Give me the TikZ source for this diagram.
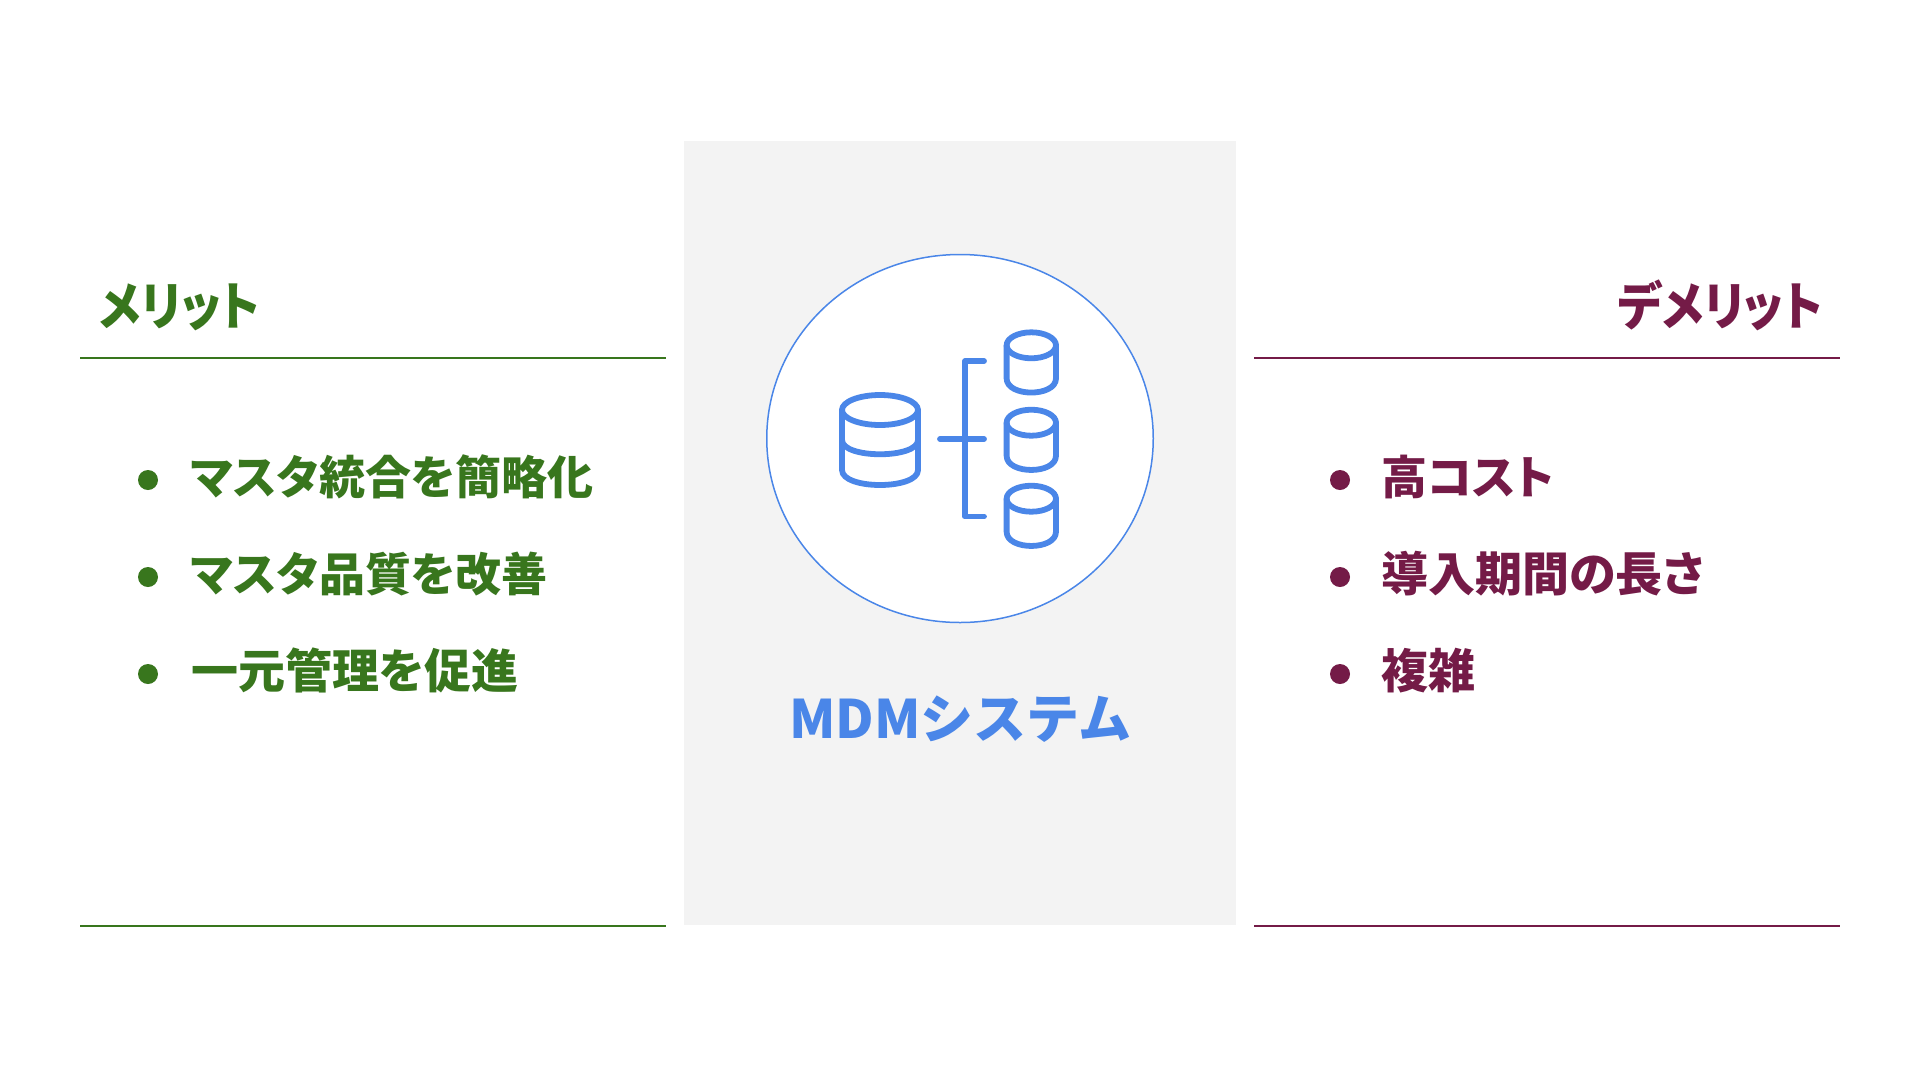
\documentclass[tikz,border=0pt]{standalone}
\usetikzlibrary{shapes.geometric}
\usepackage{fontspec}
\setmainfont{Noto Sans CJK JP}
\newfontfamily\headfont[RawFeature=+palt, FakeStretch=0.9]{Noto Sans CJK JP}
\newfontfamily\itemfont[RawFeature=+palt]{Noto Sans CJK JP}
\definecolor{meritgreen}{HTML}{38761D}
\definecolor{demeritred}{HTML}{741B47}
\definecolor{mdmblue}{HTML}{4A86E8}
\definecolor{panelgray}{HTML}{F3F3F3}
\begin{document}
\begin{tikzpicture}[x=1pt, y=-1pt,
        bullet_dot/.style={circle, fill=#1, inner sep=0pt, minimum size=20pt},
        item_text/.style={anchor=base west, inner sep=0pt, font=\fontsize{47}{54}\itemfont\bfseries, text=#1},
        item_kana/.style={anchor=base west, inner sep=0pt, font=\fontsize{46}{54}\itemfont\bfseries, text=#1},
        head_text/.style={inner sep=0pt, font=\fontsize{52}{60}\headfont\bfseries, text=#1},
        rule_line/.style={line width=1.6pt, draw=#1},
        icon_line/.style={line width=5.8pt, draw=mdmblue, line cap=round, line join=round}
    ]
    \useasboundingbox (0,0) rectangle (1920,1080);
    \fill[white] (0,0) rectangle (1920,1080);

    % --- Pannello centrale ---
    \fill[panelgray] (683.5,141) rectangle (1236,925);
    \node[draw=mdmblue, line width=1.5pt, fill=white, ellipse, inner sep=0pt, minimum width=386.5pt, minimum height=368pt] (disc) at (960,438.5) {};
    \node[anchor=base, inner sep=0pt, font=\fontsize{53}{60}\bfseries, text=mdmblue] (mdm) at (960,738) {MDMシステム};

    % --- Cilindro grande ---
    \draw[icon_line] (880,410) ellipse [x radius=38, y radius=15];
    \draw[icon_line] (842,410) -- (842,470) .. controls (842,490) and (918,490) .. (918,470) -- (918,410);
    \draw[icon_line] (842,440) .. controls (842,459) and (918,459) .. (918,440);

    % --- Staffa ---
    \draw[icon_line] (984,361) -- (965,361) -- (965,516.5) -- (984,516.5);
    \draw[icon_line] (940,439) -- (984,439);

    % --- Cilindri piccoli ---
    \begin{scope}[shift={(1031.3,345.3)}]
        \draw[icon_line] (0,0) ellipse [x radius=24.7, y radius=13];
        \draw[icon_line] (-24.7,0) -- (-24.7,33) .. controls (-24.7,52) and (24.7,52) .. (24.7,33) -- (24.7,0);
    \end{scope}
    \begin{scope}[shift={(1031.3,422.7)}]
        \draw[icon_line] (0,0) ellipse [x radius=24.7, y radius=13];
        \draw[icon_line] (-24.7,0) -- (-24.7,33) .. controls (-24.7,52) and (24.7,52) .. (24.7,33) -- (24.7,0);
    \end{scope}
    \begin{scope}[shift={(1031.3,498.7)}]
        \draw[icon_line] (0,0) ellipse [x radius=24.7, y radius=13];
        \draw[icon_line] (-24.7,0) -- (-24.7,33) .. controls (-24.7,52) and (24.7,52) .. (24.7,33) -- (24.7,0);
    \end{scope}

    % --- Colonna sinistra ---
    \node[head_text=meritgreen, anchor=base west] (merit) at (99,325) {メリット};
    \draw[rule_line=meritgreen] (80,358) -- (666,358);
    \draw[rule_line=meritgreen] (80,926) -- (666,926);

    \node[bullet_dot=meritgreen] (dotA) at (148,480) {};
    \node[bullet_dot=meritgreen] (dotB) at (148,577) {};
    \node[bullet_dot=meritgreen] (dotC) at (148,674) {};
    \node[item_kana=meritgreen] (itemA) at (191,494) {マスタ統合を簡略化};
    \node[item_kana=meritgreen] (itemB) at (191,591) {マスタ品質を改善};
    \node[item_text=meritgreen] (itemC) at (191,688) {一元管理を促進};

    % --- Colonna destra ---
    \node[head_text=demeritred, anchor=base east] (demerit) at (1823,325) {デメリット};
    \draw[rule_line=demeritred] (1254,358) -- (1840,358);
    \draw[rule_line=demeritred] (1254,926) -- (1840,926);

    \node[bullet_dot=demeritred] (dotD) at (1340,480) {};
    \node[bullet_dot=demeritred] (dotE) at (1340,577) {};
    \node[bullet_dot=demeritred] (dotF) at (1340,674) {};
    \node[item_kana=demeritred] (itemD) at (1381,494) {高コスト};
    \node[item_text=demeritred] (itemE) at (1381,591) {導入期間の長さ};
    \node[item_text=demeritred] (itemF) at (1381,688) {複雑};

\end{tikzpicture}
\end{document}
